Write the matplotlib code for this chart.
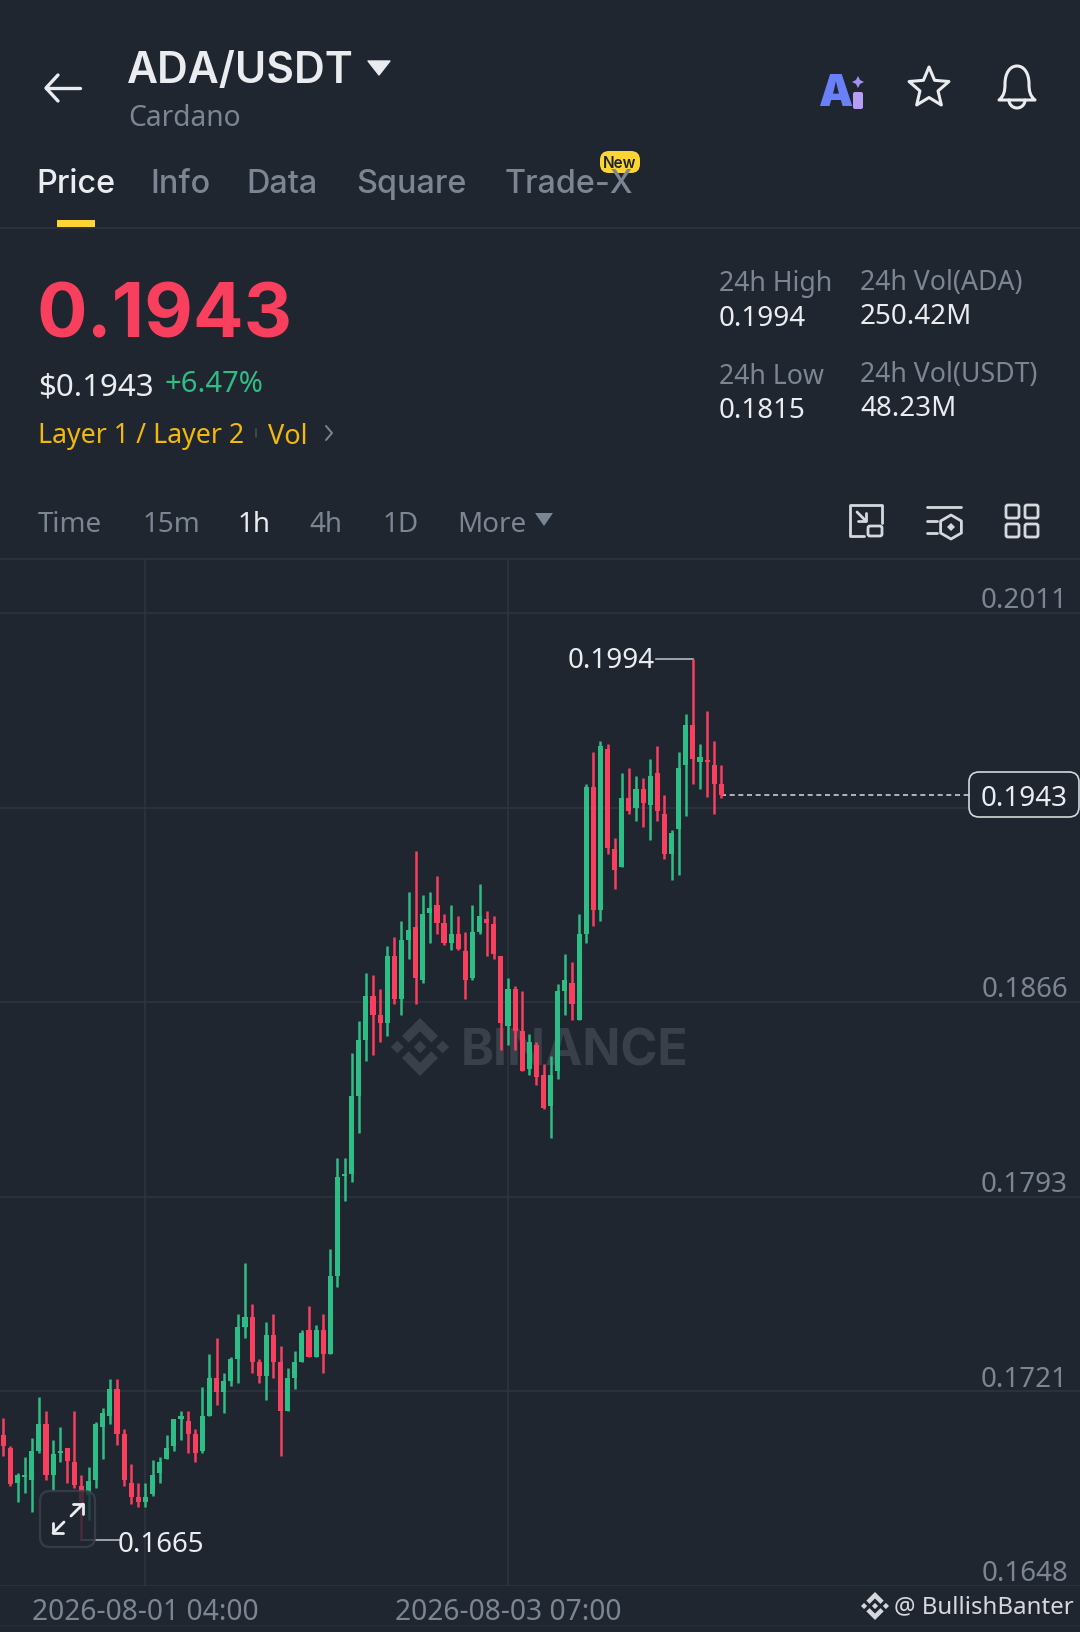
import numpy as np
import matplotlib
matplotlib.use("Agg")
import matplotlib.pyplot as plt
from matplotlib.patches import FancyBboxPatch, PathPatch, Polygon, Rectangle
from matplotlib.path import Path
from matplotlib.transforms import blended_transform_factory

# hourly candles, oldest first
opens = [0.17043, 0.16996, 0.16863, 0.16885, 0.16875, 0.16985, 0.17084, 0.16894, 0.16975, 0.16994, 0.16944,
         0.16853, 0.16819, 0.16875, 0.17074, 0.17114, 0.17214, 0.17046, 0.16863, 0.16813, 0.16794, 0.16823,
         0.16903, 0.16954, 0.17002, 0.17104, 0.17094, 0.17046, 0.16985, 0.17115, 0.17255, 0.17205, 0.17245,
         0.17326, 0.17445, 0.17485, 0.17314, 0.17265, 0.17415, 0.17314, 0.17134, 0.17255, 0.17314, 0.17435,
         0.17335, 0.17435, 0.17345, 0.17636, 0.18009, 0.18019, 0.18308, 0.18519, 0.18681, 0.18610, 0.18579,
         0.18830, 0.18669, 0.18890, 0.18939, 0.18740, 0.18992, 0.19020, 0.18952, 0.18881, 0.18911, 0.18850,
         0.18749, 0.18921, 0.18970, 0.18949, 0.18830, 0.18570, 0.18709, 0.18550, 0.18408, 0.18500, 0.18388,
         0.18270, 0.18401, 0.18699, 0.18730, 0.18591, 0.18912, 0.19462, 0.19002, 0.19602, 0.19229, 0.19163,
         0.19422, 0.19383, 0.19452, 0.19393, 0.19512, 0.19362, 0.19213, 0.19304, 0.19543, 0.19692, 0.19555,
         0.19561, 0.19543, 0.19472]
highs = [0.17105, 0.17002, 0.16903, 0.16962, 0.17033, 0.17184, 0.17134, 0.17025, 0.17074, 0.16994, 0.17134,
         0.16894, 0.16925, 0.17093, 0.17143, 0.17254, 0.17254, 0.17064, 0.16934, 0.16863, 0.16863, 0.16952,
         0.16962, 0.17043, 0.17103, 0.17134, 0.17134, 0.17064, 0.17224, 0.17345, 0.17406, 0.17273, 0.17335,
         0.17495, 0.17686, 0.17534, 0.17326, 0.17466, 0.17495, 0.17375, 0.17294, 0.17355, 0.17435, 0.17525,
         0.17454, 0.17495, 0.17737, 0.18078, 0.18078, 0.18469, 0.18589, 0.18769, 0.18759, 0.18709, 0.18868,
         0.18900, 0.18960, 0.19070, 0.19222, 0.19060, 0.19070, 0.19130, 0.18989, 0.19020, 0.18979, 0.18919,
         0.19020, 0.19101, 0.18999, 0.18979, 0.18830, 0.18749, 0.18718, 0.18699, 0.18538, 0.18510, 0.18427,
         0.18457, 0.18728, 0.18840, 0.18809, 0.18989, 0.19472, 0.19592, 0.19633, 0.19623, 0.19271, 0.19512,
         0.19533, 0.19502, 0.19493, 0.19564, 0.19613, 0.19431, 0.19300, 0.19592, 0.19733, 0.19940, 0.19621,
         0.19743, 0.19633, 0.19543]
lows = [0.16965, 0.16854, 0.16794, 0.16826, 0.16755, 0.16975, 0.16875, 0.16838, 0.16944, 0.16863, 0.16844,
        0.16650, 0.16726, 0.16844, 0.16954, 0.17084, 0.17006, 0.16854, 0.16786, 0.16773, 0.16773, 0.16816,
        0.16863, 0.16954, 0.16985, 0.17025, 0.16975, 0.16944, 0.16975, 0.17115, 0.17155, 0.17124, 0.17226,
        0.17236, 0.17406, 0.17276, 0.17236, 0.17174, 0.17255, 0.16965, 0.17134, 0.17215, 0.17314, 0.17335,
        0.17335, 0.17276, 0.17345, 0.17596, 0.17917, 0.17988, 0.18169, 0.18439, 0.18461, 0.18510, 0.18531,
        0.18651, 0.18610, 0.18821, 0.18651, 0.18730, 0.18881, 0.18912, 0.18871, 0.18852, 0.18852, 0.18669,
        0.18740, 0.18911, 0.18831, 0.18821, 0.18479, 0.18500, 0.18479, 0.18401, 0.18388, 0.18349, 0.18258,
        0.18150, 0.18370, 0.18610, 0.18591, 0.18591, 0.18881, 0.18942, 0.18961, 0.19213, 0.19082, 0.19163,
        0.19362, 0.19334, 0.19313, 0.19263, 0.19334, 0.19192, 0.19114, 0.19132, 0.19354, 0.19474, 0.19453,
        0.19424, 0.19362, 0.19422]
closes = [0.17004, 0.16860, 0.16894, 0.16893, 0.16985, 0.17084, 0.16894, 0.16972, 0.16984, 0.16946, 0.16857,
          0.16794, 0.16873, 0.17084, 0.17124, 0.17214, 0.17046, 0.16875, 0.16813, 0.16794, 0.16813, 0.16894,
          0.16944, 0.16994, 0.17103, 0.17114, 0.17046, 0.16975, 0.17114, 0.17255, 0.17205, 0.17245, 0.17326,
          0.17445, 0.17485, 0.17314, 0.17265, 0.17415, 0.17314, 0.17134, 0.17255, 0.17314, 0.17425, 0.17335,
          0.17435, 0.17345, 0.17636, 0.18007, 0.18017, 0.18308, 0.18519, 0.18681, 0.18610, 0.18579, 0.18830,
          0.18669, 0.18890, 0.18929, 0.18749, 0.18989, 0.19010, 0.18952, 0.18881, 0.18911, 0.18858, 0.18740,
          0.18921, 0.18980, 0.18952, 0.18840, 0.18579, 0.18709, 0.18550, 0.18401, 0.18510, 0.18380, 0.18262,
          0.18388, 0.18699, 0.18740, 0.18650, 0.18911, 0.19462, 0.19002, 0.19613, 0.19232, 0.19153, 0.19422,
          0.19372, 0.19452, 0.19403, 0.19502, 0.19372, 0.19213, 0.19291, 0.19533, 0.19692, 0.19564, 0.19574,
          0.19554, 0.19474, 0.19433]

price_ticks = [0.16480, 0.17206, 0.17932, 0.18658, 0.19384, 0.20110]
price_labels = ["0.1648", "0.1721", "0.1793", "0.1866", "", "0.2011"]
date_ticks = [20, 71]
date_labels = ["2026-08-01 04:00", "2026-08-03 07:00"]
last_price = 0.1943
high_price = 0.1994
low_price = 0.1665

BG = "#1f2630"
GRID = "#2f353f"
GREEN = "#2ebd85"
RED = "#f93f5e"
GRAY = "#7c8592"
WHITE = "#eaecef"
YELLOW = "#f0b90b"
ICON = "#d5d8dc"
BODY_FONT = "Noto Sans"
HEAD_FONT = "Inter"

fig = plt.figure(figsize=(10.8, 16.32), dpi=100, facecolor=BG)

# ui axes work in image pixels, y pointing down
ui = fig.add_axes([0, 0, 1, 1], zorder=2)
ui.set_xlim(0, 1080)
ui.set_ylim(1632, 0)
ui.axis("off")
ui.patch.set_alpha(0)

ax = fig.add_axes([0, 46 / 1632, 1, 1027 / 1632], zorder=1, facecolor=BG)
for side in ax.spines:
    ax.spines[side].set_visible(False)


def label(x, y, s, size, color=GRAY, ha="left", weight="normal", font=BODY_FONT):
    # fonts sit a little high with va=center, nudge down
    ui.text(x, y + 3.5, s, fontsize=size, color=color, ha=ha, va="center", fontweight=weight, family=font)


def stroke(xs, ys, color=WHITE, lw=2.0):
    ui.plot(xs, ys, color=color, lw=lw, solid_capstyle="round", solid_joinstyle="round")


def outline_box(x0, y0, x1, y1, color=WHITE, lw=2.0, pad=2):
    ui.add_patch(FancyBboxPatch((x0 + pad, y0 + pad), x1 - x0 - 2 * pad, y1 - y0 - 2 * pad,
                                boxstyle="round,pad=%d" % pad, fc="none", ec=color, lw=lw))


def binance_logo(target, cx, cy, r, color, **kw):
    shapes = [
        [(0, -0.22), (0.22, 0), (0, 0.22), (-0.22, 0)],
        [(-0.78, -0.22), (-0.56, 0), (-0.78, 0.22), (-1, 0)],
        [(0.78, -0.22), (1, 0), (0.78, 0.22), (0.56, 0)],
        [(0, -1), (0.62, -0.38), (0.39, -0.15), (0, -0.54), (-0.39, -0.15), (-0.62, -0.38)],
        [(0, 1), (0.62, 0.38), (0.39, 0.15), (0, 0.54), (-0.39, 0.15), (-0.62, 0.38)],
    ]
    for shape in shapes:
        pts = [(cx + r * px, cy + r * py) for px, py in shape]
        target.add_patch(Polygon(pts, closed=True, fc=color, ec="none", **kw))


# candles
xs = np.arange(len(opens))
o = np.array(opens)
c = np.array(closes)
colors = [GREEN if c[i] >= o[i] else RED for i in xs]
ax.vlines(xs, lows, highs, colors=colors, lw=1.8, zorder=3)
ax.bar(xs, np.abs(c - o), bottom=np.minimum(o, c), width=0.72, color=colors, zorder=4)

ax.set_ylim(price_ticks[0], 0.20312)
ax.set_xlim(-3.3 / 7.109, (1080 - 3.3) / 7.109)
ax.set_yticks(price_ticks)
ax.set_yticklabels([])
ax.set_xticks(date_ticks)
ax.set_xticklabels(date_labels, family=BODY_FONT, fontsize=20.3, color=GRAY)
ax.tick_params(axis="both", length=0)
ax.tick_params(axis="x", pad=8.5)
ax.grid(True, color=GRID, lw=1.1, zorder=0)
ax.set_axisbelow(True)

# price labels sit above their grid lines on the right
label_trans = blended_transform_factory(ax.transAxes, ax.transData)
for tick, text in zip(price_ticks, price_labels):
    ax.text(1068 / 1080, tick - 0.00008, text, transform=label_trans, ha="right", va="bottom",
            fontsize=20, color=GRAY, family=BODY_FONT, zorder=2)

# watermark behind the candles
binance_logo(ax, 420, 1047, 29, "#3a404a", transform=ui.transData, zorder=1)
ax.text(461, 1052, "BINANCE", transform=ui.transData, fontsize=36, color="#3a404a", fontweight="bold",
        family=HEAD_FONT, va="center", ha="left", zorder=1)

# last price line and high / low markers
last_x = len(opens) - 1
ax.plot([last_x, 969 / 7.109], [last_price, last_price], color="#c9ccd1", lw=1.2, dashes=(3, 2.2), zorder=2)
ax.plot([97, 97 - 37 / 7.109], [high_price, high_price], color="#b5b9c0", lw=1.2, zorder=2)
ax.plot([11, 11 + 38 / 7.109], [low_price, low_price], color="#b5b9c0", lw=1.2, zorder=2)
ax.annotate("0.1994", (97 - 37 / 7.109, high_price), xytext=(-1, -1.8), textcoords="offset points", ha="right",
            va="center", fontsize=20, color=WHITE, family=BODY_FONT)
ax.annotate("0.1665", (11 + 38 / 7.109, low_price), xytext=(-1, -3.5), textcoords="offset points", ha="left",
            va="center", fontsize=20, color=WHITE, family=BODY_FONT)

ui.add_patch(FancyBboxPatch((979, 782), 90, 25, boxstyle="round,pad=10", fc=BG, ec=ICON, lw=1.2))
label(1024, 795, "0.1943", 20, WHITE, ha="center")

# header
stroke([46, 80], [88, 88], lw=2.4)
stroke([58, 46, 58], [75, 88, 101], lw=2.4)
label(127, 68, "ADA/USDT", 30.7, WHITE, weight="semibold", font=HEAD_FONT)
ui.add_patch(Polygon([(368, 61), (390, 61), (379, 75)], closed=True, fc=WHITE, ec=WHITE, lw=1, joinstyle="round"))
label(128, 115, "Cardano", 20.3, GRAY)

# ai badge, star and bell
ui.text(818, 95, "A", fontsize=31, color="#6a80f8", fontweight="black", family=HEAD_FONT, ha="left", va="center")
ui.add_patch(FancyBboxPatch((855, 94), 6, 13, boxstyle="round,pad=2", fc="#b79df5", ec="none"))
ui.add_patch(Polygon([(858, 76), (860, 80), (864, 82), (860, 84), (858, 88), (856, 84), (852, 82), (856, 80)],
                     closed=True, fc="#a48ff5", ec="none"))
angles = np.deg2rad(np.arange(-90, 270, 36))
radii = np.where(np.arange(10) % 2 == 0, 21, 9.5)
ui.add_patch(Polygon(np.c_[929 + radii * np.cos(angles), 88 + radii * np.sin(angles)], closed=True, fc="none",
                     ec=WHITE, lw=2.2, joinstyle="round"))
bell = Path([(999, 100), (1004, 96), (1005, 91), (1005, 84), (1005, 73), (1010, 66), (1017, 66), (1024, 66),
             (1029, 73), (1029, 84), (1029, 91), (1030, 96), (1035, 100), (999, 100), (999, 100)],
            [Path.MOVETO] + [Path.CURVE4] * 12 + [Path.LINETO, Path.CLOSEPOLY])
ui.add_patch(PathPatch(bell, fc="none", ec=WHITE, lw=2.2, joinstyle="round"))
theta = np.linspace(0, np.pi, 20)
stroke(1017 + 8 * np.cos(theta), 100 + 8 * np.sin(theta), lw=2.2)

# tabs
tab_names = ["Price", "Info", "Data", "Square", "Trade-X"]
tab_x = [36, 150, 246, 356, 505]
for name, x in zip(tab_names, tab_x):
    label(x, 181, name, 23.3, WHITE if name == "Price" else GRAY, weight="medium", font=HEAD_FONT)
ui.add_patch(Rectangle((57, 220), 38, 7, fc="#fcd535", ec="none"))
ui.add_patch(FancyBboxPatch((609, 160), 22, 4, boxstyle="round,pad=9", fc="#fcd535", ec="none"))
label(620, 160, "New", 11, "#1e2329", ha="center", weight="semibold", font=HEAD_FONT)
stroke([0, 1080], [228, 228], GRID, 1.1)

# price block
label(37, 314.5, "0.1943", 54, RED, weight="bold", font=HEAD_FONT)
label(38, 384, "$0.1943", 22.5, WHITE, weight="semibold")
label(165, 381, "+6.47%", 21, GREEN, weight="semibold")
label(38, 433, "Layer 1 / Layer 2", 19.3, YELLOW, weight="semibold")
stroke([256, 256], [429, 437], "#474d57", 1.2)
label(268, 433, "Vol", 19.5, YELLOW, weight="semibold")
stroke([326, 332, 326], [426, 433, 440], GRAY, 1.4)

stat_names = ["24h High", "24h Low", "24h Vol(ADA)", "24h Vol(USDT)"]
stat_values = ["0.1994", "0.1815", "250.42M", "48.23M"]
stat_x = [719, 719, 860, 860]
stat_y = [281, 373, 279, 371]
for name, value, x, y in zip(stat_names, stat_values, stat_x, stat_y):
    label(x, y, name, 19.2, GRAY)
    label(x, y + 35, value, 20, WHITE)

# interval row
interval_names = ["Time", "15m", "1h", "4h", "1D", "More"]
interval_x = [38, 143, 238, 309, 383, 457]
for name, x in zip(interval_names, interval_x):
    label(x, 521, name, 20, WHITE if name == "1h" else GRAY, weight="semibold" if name == "1h" else "normal")
ui.add_patch(Polygon([(535, 513), (553, 513), (544, 526)], closed=True, fc=GRAY, ec="none"))
stroke([0, 1080], [559, 559], GRID, 1.1)

# chart tool icons
stroke([864, 850, 850, 882, 882], [536, 536, 505, 505, 523], ICON, 2)
outline_box(868, 526, 882, 536, ICON, 2)
stroke([857, 866], [512, 521], ICON, 2)
stroke([866, 866, 858], [513, 521, 521], ICON, 2)
stroke([927, 961], [507, 507], ICON, 2)
stroke([927, 937], [521, 521], ICON, 2)
stroke([927, 937], [533, 533], ICON, 2)
hex_angle = np.deg2rad(np.arange(-90, 270, 60))
ui.add_patch(Polygon(np.c_[951 + 12 * np.cos(hex_angle), 527 + 12 * np.sin(hex_angle)], closed=True, fc="none",
                     ec=ICON, lw=2, joinstyle="round"))
ui.add_patch(Polygon([(951, 523), (955, 527), (951, 531), (947, 527)], closed=True, fc=ICON, ec="none"))
for x0 in (1006, 1025):
    for y0 in (505, 524):
        outline_box(x0, y0, x0 + 13, y0 + 13, ICON, 2)

# expand button over the candles
ui.add_patch(FancyBboxPatch((50, 1501), 35, 36, boxstyle="round,pad=10", fc=BG, ec="#3c424c", lw=1.6, alpha=0.8))
stroke([71, 83], [1516, 1504], WHITE, 2)
stroke([73, 83, 83], [1504, 1504, 1514], WHITE, 2)
stroke([53, 64], [1533, 1522], WHITE, 2)
stroke([53, 53, 63], [1523, 1533, 1533], WHITE, 2)

# credit line
binance_logo(ui, 875, 1606, 14, ICON)
label(894, 1604, "@ BullishBanter", 17.3, ICON)
stroke([0, 1080], [1626, 1626], "#272d36", 1.1)

fig.savefig("out.png", dpi=100, facecolor=BG)
